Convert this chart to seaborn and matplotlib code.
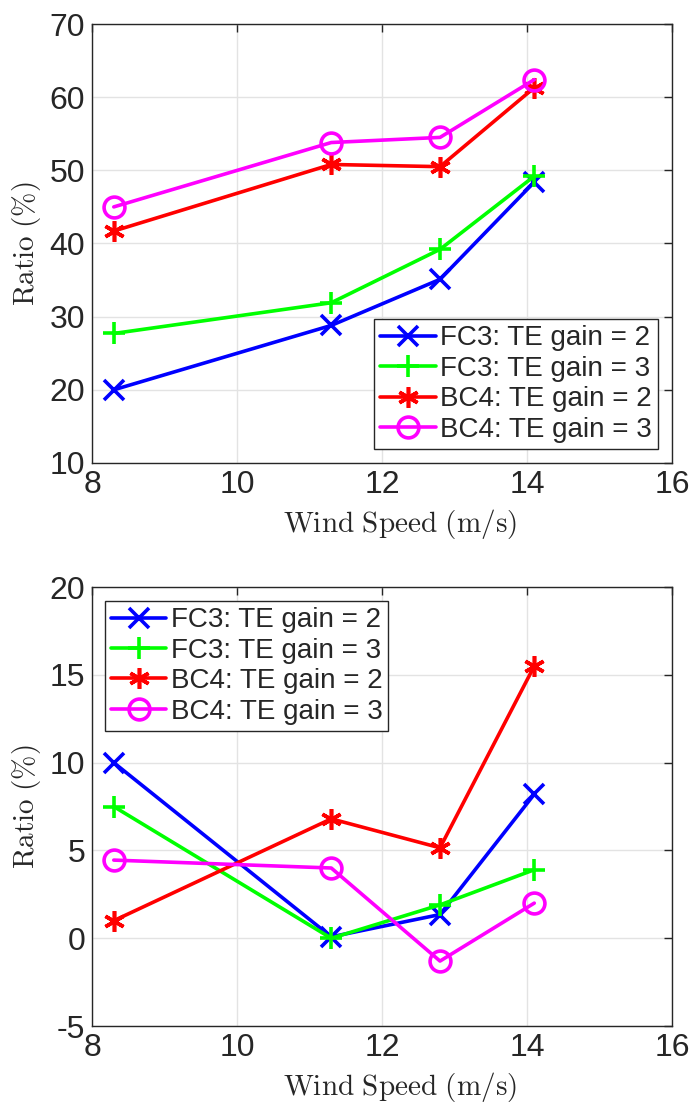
import numpy as np
import pandas as pd
import matplotlib
matplotlib.use("Agg")
import matplotlib.pyplot as plt
import seaborn as sns

# Wind speeds (m/s)
wind_speed = [8.3, 11.3, 12.8, 14.1]

series_names = ["FC3: TE gain = 2", "FC3: TE gain = 3",
                "BC4: TE gain = 2", "BC4: TE gain = 3"]

# Upper panel ratios (%)
top_fc3_g2 = [20.0, 28.8, 35.1, 48.4]
top_fc3_g3 = [27.7, 31.9, 39.2, 49.2]
top_bc4_g2 = [41.7, 50.8, 50.5, 61.3]
top_bc4_g3 = [45.0, 53.8, 54.5, 62.4]

# Lower panel ratios (%)
bot_fc3_g2 = [10.0, 0.08, 1.35, 8.2]
bot_fc3_g3 = [7.5, 0.0, 1.9, 3.9]
bot_bc4_g2 = [1.0, 6.8, 5.15, 15.5]
bot_bc4_g3 = [4.45, 4.0, -1.3, 2.0]

colors = ["#0000ff", "#00ff00", "#ff0000", "#ff00ff"]
markers = ["x", "+", (6, 2, 0), "o"]
marker_sizes = [14, 16, 15, 15]

sns.set_style("white")
plt.rcParams["font.family"] = ["Liberation Sans", "DejaVu Sans"]
plt.rcParams["mathtext.fontset"] = "cm"
plt.rcParams["axes.unicode_minus"] = False

fig = plt.figure(figsize=(6.93, 11.06), dpi=100)
ax_top = fig.add_axes([0.1328, 0.5814, 0.8369, 0.3969])
ax_bot = fig.add_axes([0.1328, 0.0723, 0.8369, 0.3969])


def long_frame(values):
    rows = []
    for name, vals in zip(series_names, values):
        for x, y in zip(wind_speed, vals):
            rows.append({"Wind Speed": x, "Ratio": y, "Series": name})
    return pd.DataFrame(rows)


def draw_panel(ax, values, ylim, yticks, legend_loc, legend_anchor):
    df = long_frame(values)
    for name, col, mk, ms in zip(series_names, colors, markers, marker_sizes):
        sub = df[df["Series"] == name]
        sns.lineplot(data=sub, x="Wind Speed", y="Ratio", ax=ax,
                     color=col, lw=2.6, marker=mk, ms=ms, mew=2.6,
                     mec=col, mfc="none", label=name, sort=False)
    ax.set_xlim(8, 16)
    ax.set_ylim(*ylim)
    ax.set_xticks(np.arange(8, 17, 2))
    ax.set_yticks(yticks)
    ax.grid(True, color="#e3e3e3", lw=1.0)
    ax.set_axisbelow(True)
    for sp in ax.spines.values():
        sp.set_color("#262626")
        sp.set_linewidth(1.0)
    ax.tick_params(direction="in", length=6, width=1.0, color="#262626",
                   labelsize=23, labelcolor="#262626",
                   top=True, right=True, pad=5)
    ax.set_xlabel(r"$\mathrm{Wind\ Speed\ (m/s)}$", fontsize=21)
    ax.set_ylabel(r"$\mathrm{Ratio\ (\%)}$", fontsize=21)
    ax.xaxis.set_label_coords(0.531, -0.100)
    ax.yaxis.set_label_coords(-0.084, 0.5)
    leg = ax.legend(loc=legend_loc, bbox_to_anchor=legend_anchor,
                    borderaxespad=0, fontsize=20, frameon=True,
                    fancybox=False, framealpha=1, edgecolor="#262626",
                    labelspacing=0.16, borderpad=0.22, handletextpad=0.15,
                    handlelength=2.0)
    leg.get_frame().set_linewidth(1.0)


draw_panel(ax_top, [top_fc3_g2, top_fc3_g3, top_bc4_g2, top_bc4_g3],
           (10, 70), np.arange(10, 71, 10), "lower right", (0.976, 0.032))
draw_panel(ax_bot, [bot_fc3_g2, bot_fc3_g3, bot_bc4_g2, bot_bc4_g3],
           (-5, 20), np.arange(-5, 21, 5), "upper left", (0.022, 0.968))

fig.savefig("out.png", dpi=100)
